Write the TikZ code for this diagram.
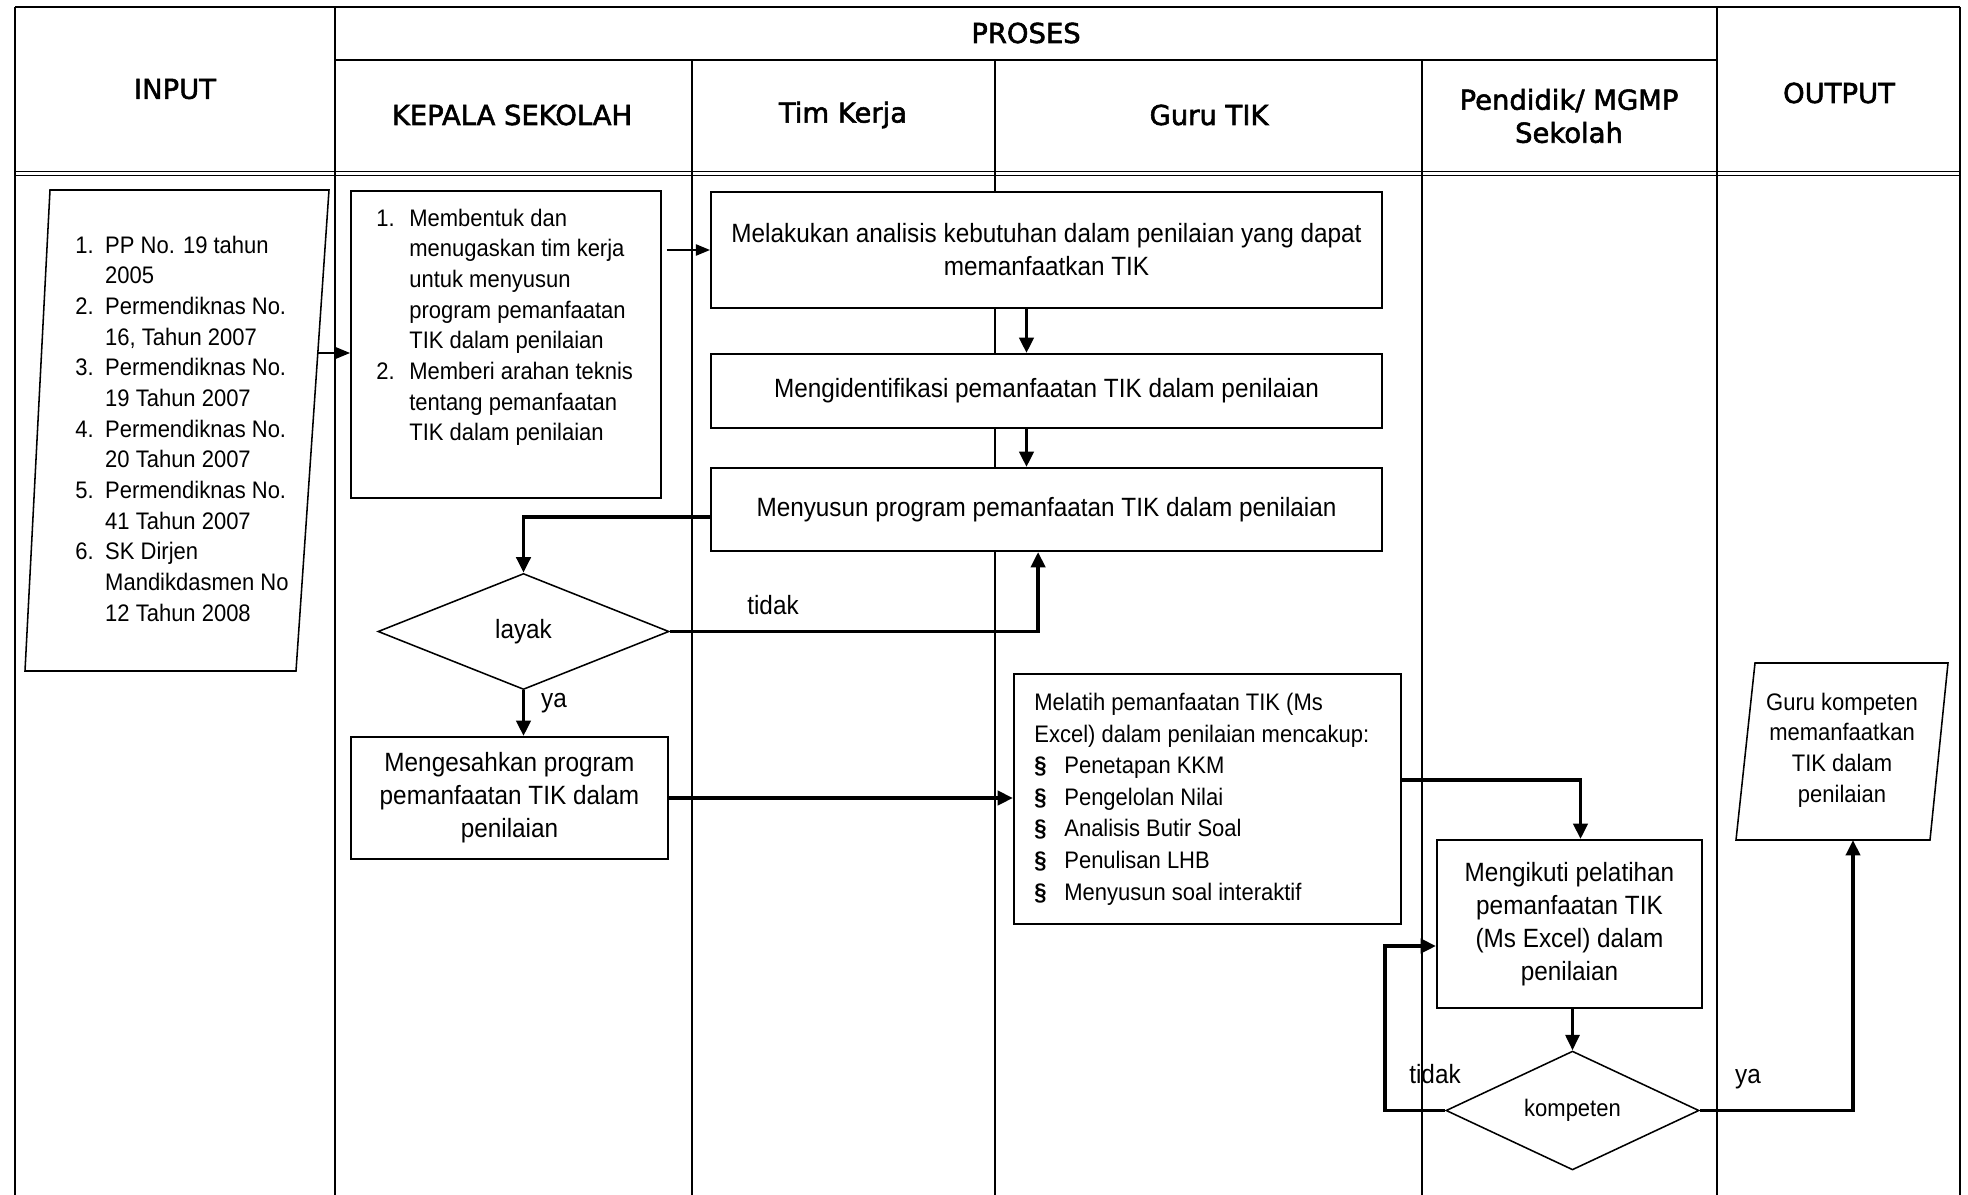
\documentclass[tikz,border=0pt]{standalone}
\usepackage{fontspec}
\setmainfont{Liberation Sans}[FakeStretch=0.92]
\newfontfamily\headfont{DejaVu Sans}[FakeBold=2]
\usepackage{tikz}
\usetikzlibrary{arrows.meta,shapes.geometric}
\newcommand{\bigtxt}{\fontsize{18.8pt}{23.5pt}\selectfont}
\newcommand{\smalltxt}{\fontsize{17pt}{21.8pt}\selectfont}
\newcommand{\headtxt}{\headfont\fontsize{19.5pt}{23.5pt}\selectfont}

\begin{document}
\begin{tikzpicture}[
    x=0.025cm, y=-0.025cm,
    every node/.style={font=\bigtxt, inner sep=0pt},
    headlbl/.style={font=\headtxt, align=center},
    procbox/.style={draw, line width=1.3pt, fill=white, align=center},
    decbox/.style={diamond, draw, line width=1.1pt, fill=white},
    iobox/.style={draw, line width=1.1pt, fill=white},
    outer/.style={line width=1.4pt},
    lane/.style={line width=1.1pt},
    thinlane/.style={line width=0.8pt},
    flow/.style={line width=2.7pt, -{Triangle[length=11pt,width=10pt]}},
    midflow/.style={line width=2pt, -{Triangle[length=11pt,width=10pt]}},
    thinflow/.style={line width=1pt, -{Triangle[length=10pt,width=8pt]}},
  ]
  \fill[white] (0,0) rectangle (1968,1195);
  \useasboundingbox (0,0) rectangle (1968,1195);

  % table frame
  \draw[outer] (15,7) -- (1960,7);
  \draw[outer] (15,7) -- (15,1195);
  \draw[outer] (1960,7) -- (1960,1195);
  \draw[lane] (335,7) -- (335,1195);
  \draw[lane] (1717,7) -- (1717,1195);
  \draw[lane] (335,60) -- (1717,60);
  \draw[thinlane] (692,60) -- (692,1195);
  \draw[thinlane] (995,60) -- (995,1195);
  \draw[lane] (1422,60) -- (1422,1195);
  \draw[outer] (15,171.5) -- (1960,171.5);
  \draw[outer] (15,175.5) -- (1960,175.5);

  % header
  \node[headlbl] (hproses) at (1026,33) {PROSES};
  \node[headlbl] (hinput) at (175,89) {INPUT};
  \node[headlbl] (hkepala) at (512,115) {KEPALA SEKOLAH};
  \node[headlbl] (htim) at (843,115) {Tim Kerja};
  \node[headlbl] (hguru) at (1209,115) {Guru TIK};
  \node[headlbl] (hmgmp) at (1569,116) {Pendidik/ MGMP\\Sekolah};
  \node[headlbl] (houtput) at (1839,93) {OUTPUT};

  % input
  \draw[iobox] (50,190) -- (329,190) -- (296,671) -- (25,671) -- cycle;
  \coordinate (inp-e) at (318,353);
  \node[font=\smalltxt, anchor=west] (inputs) at (75,431) {%
    \begin{tabular}{@{}p{21.3pt}@{}l@{}}
      1. & PP No. 19 tahun\\
         & 2005\\
      2. & Permendiknas No.\\
         & 16, Tahun 2007\\
      3. & Permendiknas No.\\
         & 19 Tahun 2007\\
      4. & Permendiknas No.\\
         & 20 Tahun 2007\\
      5. & Permendiknas No.\\
         & 41 Tahun 2007\\
      6. & SK Dirjen\\
         & Mandikdasmen No\\
         & 12 Tahun 2008
    \end{tabular}};

  % kepala sekolah
  \node[procbox, minimum width=7.75cm, minimum height=7.675cm] (kepala) at (506,344.5) {};
  \node[font=\smalltxt, anchor=north west] (kepalalist) at (376,204.6) {%
    \begin{tabular}{@{}p{23.5pt}@{}l@{}}
      1. & Membentuk dan\\
         & menugaskan tim kerja\\
         & untuk menyusun\\
         & program pemanfaatan\\
         & TIK dalam penilaian\\
      2. & Memberi arahan teknis\\
         & tentang pemanfaatan\\
         & TIK dalam penilaian
    \end{tabular}};
  \node[decbox, minimum width=7.275cm, minimum height=2.9cm] (layak) at (523.5,631.5) {layak};
  \node[procbox, minimum width=7.925cm, minimum height=3.05cm] (sahkan) at (509.5,798)
    {Mengesahkan program\\pemanfaatan TIK dalam\\penilaian};

  % guru TIK
  \node[procbox, minimum width=16.775cm, minimum height=2.9cm] (analisis) at (1046.5,250)
    {Melakukan analisis kebutuhan dalam penilaian yang dapat\\memanfaatkan TIK};
  \node[procbox, minimum width=16.775cm, minimum height=1.85cm] (identif) at (1046.5,391)
    {Mengidentifikasi pemanfaatan TIK dalam penilaian};
  \node[procbox, minimum width=16.775cm, minimum height=2.075cm] (susun) at (1046.5,509.5)
    {Menyusun program pemanfaatan TIK dalam penilaian};
  \node[procbox, minimum width=9.675cm, minimum height=6.25cm,
        font=\fontsize{17pt}{22.5pt}\selectfont] (melatih) at (1207.5,799) {%
    \hspace*{-4pt}\begin{tabular}{@{}p{21.3pt}@{}l@{}}
      \multicolumn{2}{@{}l@{}}{Melatih pemanfaatan TIK (Ms}\\
      \multicolumn{2}{@{}l@{}}{Excel) dalam penilaian mencakup:}\\
      \textbf{§} & Penetapan KKM\\
      \textbf{§} & Pengelolan Nilai\\
      \textbf{§} & Analisis Butir Soal\\
      \textbf{§} & Penulisan LHB\\
      \textbf{§} & Menyusun soal interaktif
    \end{tabular}\hspace*{4pt}};

  % pendidik / MGMP
  \node[procbox, minimum width=6.625cm, minimum height=4.2cm] (ikuti) at (1569.5,924)
    {Mengikuti pelatihan\\pemanfaatan TIK\\(Ms Excel) dalam\\penilaian};
  \node[decbox, minimum width=6.325cm, minimum height=2.875cm, font=\smalltxt] (kompeten) at (1572.5,1110.5) {kompeten};

  % output
  \draw[iobox] (1755,663) -- (1948,663) -- (1930,840) -- (1736,840) -- cycle;
  \coordinate (out-s) at (1853,840);
  \node[font=\smalltxt, align=center] (hasil) at (1842,750)
    {Guru kompeten\\memanfaatkan\\TIK dalam\\penilaian};

  % labels
  \node (tidak1) at (773,605) {tidak};
  \node (ya1) at (554,703) {ya};
  \node (tidak2) at (1435,1074) {tidak};
  \node (ya2) at (1748,1079) {ya};

  % connectors
  \draw[thinflow] (inp-e) -- (inp-e -| kepala.west);
  \draw[thinflow, shorten <=0.125cm] (kepala.east |- analisis.west) -- (analisis.west);
  \draw[flow] ([xshift=-0.5cm]analisis.south) -- ([xshift=-0.5cm]identif.north);
  \draw[flow] ([xshift=-0.5cm]identif.south) -- ([xshift=-0.5cm]susun.north);
  \draw[flow] ([yshift=-0.19cm]susun.west) -| (layak.north);
  \draw[flow] (layak.east) -| ([xshift=-0.21cm]susun.south);
  \draw[flow] (layak.south) -- (layak.south |- sahkan.north);
  \draw[flow] (sahkan.east) -- (sahkan.east -| melatih.west);
  \draw[flow] ([yshift=0.475cm]melatih.east) -| ([xshift=0.275cm]ikuti.north);
  \draw[midflow] (kompeten.north |- ikuti.south) -- (kompeten.north);
  \draw[flow] (kompeten.west) -- ++(-1.5cm,0) |- ([yshift=-0.55cm]ikuti.west);
  \draw[flow] (kompeten.east) -| (out-s);
\end{tikzpicture}
\end{document}
